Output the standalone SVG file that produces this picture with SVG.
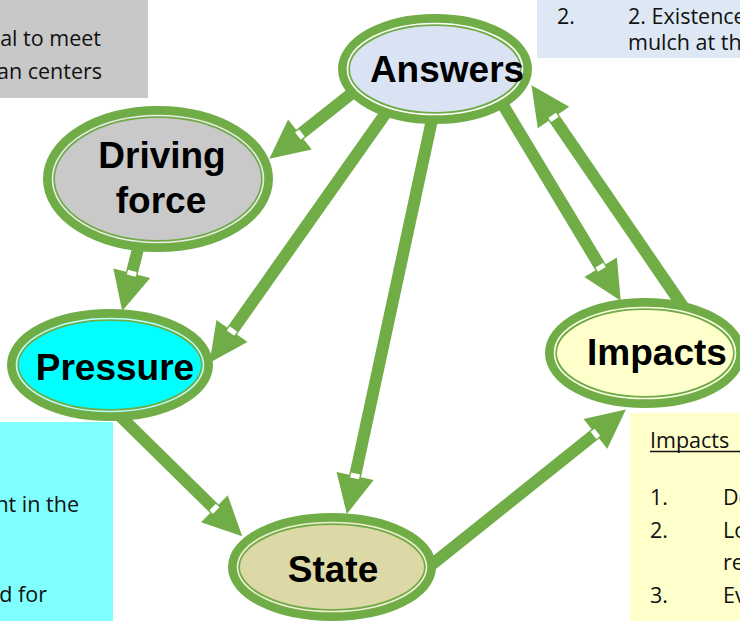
<svg xmlns="http://www.w3.org/2000/svg" width="740" height="621" viewBox="0 0 740 621">
<style>
.box{stroke:none}
.bt{font-family:"Open Sans","Liberation Sans",Arial,sans-serif;font-size:21.5px;fill:#111111}
.ring{stroke:#70ad47;stroke-width:12}
.inl{fill:none;stroke-width:1.6}
.lbl{font-family:"Liberation Sans",Arial,sans-serif;font-weight:bold;font-size:37px;fill:#000;text-anchor:middle}
.conn{stroke:#70ad47;stroke-width:12;fill:none;marker-end:url(#ah)}
</style>
<defs>
<marker id="ah" markerUnits="userSpaceOnUse" viewBox="-5 -20 45 40" markerWidth="45" markerHeight="40" refX="0" refY="0" orient="auto" overflow="visible">
<polygon points="0,-19 39,0 0,19" fill="#70ad47"/>
<rect x="-2.5" y="-4.5" width="5" height="9" fill="#ffffff"/>
</marker>
</defs>
<rect width="740" height="621" fill="#ffffff"/>
<g id="note-topleft">
<rect class="box" x="0" y="0" width="148" height="98" fill="#c8c8c8"/>
<text class="bt" x="101" y="46" text-anchor="end">al to meet</text>
<text class="bt" x="102" y="79" text-anchor="end">an centers</text>
</g>
<g id="note-topright">
<rect class="box" x="537" y="0" width="203" height="58" fill="#dde8f4"/>
<text class="bt" x="557" y="24">2.</text>
<text class="bt" x="628" y="24">2. Existence</text>
<text class="bt" x="628" y="50">mulch at th</text>
</g>
<g id="note-bottomleft">
<rect class="box" x="0" y="422" width="113" height="199" fill="#80ffff"/>
<text class="bt" x="79" y="512" text-anchor="end">nt in the</text>
<text class="bt" x="47" y="602" text-anchor="end">d for</text>
</g>
<g id="note-bottomright">
<rect class="box" x="630" y="413" width="110" height="208" fill="#ffffcc"/>
<text class="bt" x="650" y="448">Impacts</text>
<line x1="650" y1="451.5" x2="740" y2="451.5" stroke="#111111" stroke-width="1.3"/>
<text class="bt" x="650" y="505">1.</text>
<text class="bt" x="723" y="505">De</text>
<text class="bt" x="650" y="538">2.</text>
<text class="bt" x="723" y="538">Lo</text>
<text class="bt" x="723" y="570">re</text>
<text class="bt" x="650" y="603">3.</text>
<text class="bt" x="723" y="603">Ev</text>
</g>
<g id="connectors">
<line class="conn" x1="356" y1="90" x2="299.9" y2="134.5"/>
<line class="conn" x1="388" y1="110" x2="232" y2="331"/>
<line class="conn" x1="433" y1="115" x2="355.1" y2="475.9"/>
<line class="conn" x1="500" y1="100" x2="600.6" y2="267.3"/>
<line class="conn" x1="684" y1="308" x2="553.5" y2="117.4"/>
<line class="conn" x1="139" y1="245" x2="131.8" y2="273.3"/>
<line class="conn" x1="119" y1="415" x2="214.4" y2="508.8"/>
<line class="conn" x1="425" y1="570" x2="595.4" y2="433.8"/>
</g>
<g id="answers">
<ellipse class="ring" cx="435" cy="69" rx="91" ry="49" fill="#dae3f3"/>
<ellipse class="inl" cx="435" cy="69" rx="87.5" ry="45.5" stroke="#ffffff"/>
<text class="lbl" x="447" y="82">Answers</text>
</g>
<g id="driving-force">
<ellipse class="ring" cx="158" cy="179" rx="109" ry="67" fill="#c9c9c9"/>
<ellipse class="inl" cx="158" cy="179" rx="105.5" ry="63.5" stroke="#ececec"/>
<text class="lbl" x="162" y="168">Driving</text>
<text class="lbl" x="161" y="213">force</text>
</g>
<g id="pressure">
<ellipse class="ring" cx="110" cy="365" rx="97" ry="50" fill="#00ffff"/>
<ellipse class="inl" cx="110" cy="365" rx="93.5" ry="46.5" stroke="#b8ffff"/>
<text class="lbl" x="115" y="380">Pressure</text>
</g>
<g id="impacts">
<ellipse class="ring" cx="645" cy="353" rx="94" ry="49" fill="#ffffcc"/>
<ellipse class="inl" cx="645" cy="353" rx="90.5" ry="45.5" stroke="#ffffe6"/>
<text class="lbl" x="657" y="365">Impacts</text>
</g>
<g id="state">
<ellipse class="ring" cx="332" cy="567" rx="98" ry="48" fill="#ddd9a6"/>
<ellipse class="inl" cx="332" cy="567" rx="94.5" ry="44.5" stroke="#f2efd6"/>
<text class="lbl" x="333" y="582">State</text>
</g>
</svg>
